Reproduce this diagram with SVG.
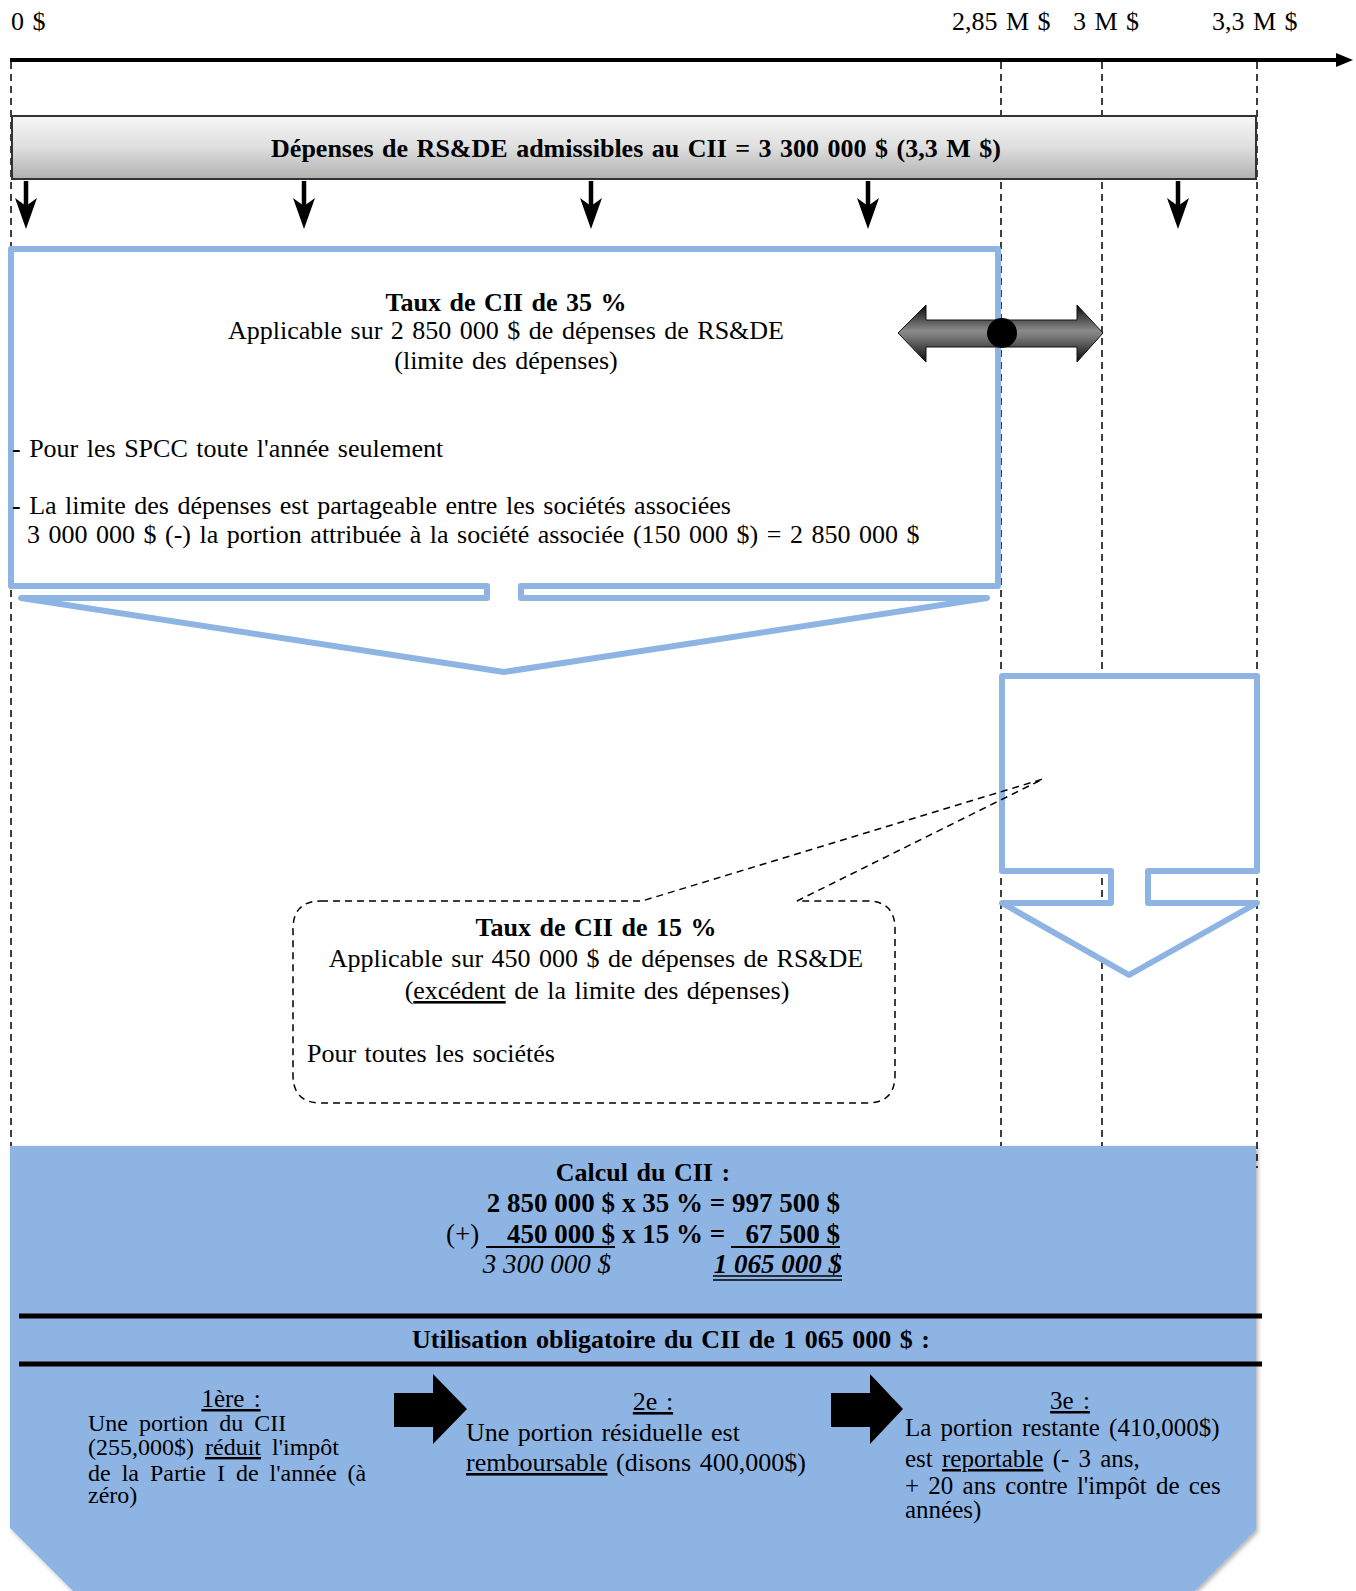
<svg xmlns="http://www.w3.org/2000/svg" width="1356" height="1591" viewBox="0 0 1356 1591">
<style>
.t{font-family:"Liberation Serif","Times New Roman",serif;font-size:26px;fill:#000;word-spacing:2px}
.s{font-size:25px;word-spacing:3px}
.s1{font-size:24px;word-spacing:5px}
.k{font-size:27px;word-spacing:0}
.b{font-weight:bold}
.c{text-anchor:middle}
.e{text-anchor:end}
.i{font-style:italic}
.u{text-decoration:underline}
.dash{stroke:#000;stroke-width:1.5;stroke-dasharray:7 5;fill:none}
.blue{fill:#fff;stroke:#8EB4E3;stroke-width:6;stroke-linejoin:round}
</style>
<defs>
<linearGradient id="gbar" x1="0" y1="0" x2="0" y2="1">
<stop offset="0" stop-color="#f7f7f7"/>
<stop offset="0.5" stop-color="#dedede"/>
<stop offset="1" stop-color="#b0b0b0"/>
</linearGradient>
<linearGradient id="gmetal" x1="0" y1="0" x2="0" y2="1">
<stop offset="0" stop-color="#0a0a0a"/>
<stop offset="0.45" stop-color="#8a8a8a"/>
<stop offset="0.55" stop-color="#7a7a7a"/>
<stop offset="1" stop-color="#0a0a0a"/>
</linearGradient>
<filter id="sh" x="-5%" y="-5%" width="110%" height="110%">
<feDropShadow dx="2" dy="2" stdDeviation="2" flood-color="#000" flood-opacity="0.3"/>
</filter>
<g id="darr">
<line x1="0" y1="181" x2="0" y2="212" stroke="#000" stroke-width="4.5"/>
<path d="M-11,198 L0,206 L11,198 L0,229 Z" fill="#000"/>
</g>
</defs>

<g id="connectors">
<line class="dash" x1="11" y1="62" x2="11" y2="1146"/>
<line class="dash" x1="1001" y1="62" x2="1001" y2="1146"/>
<line class="dash" x1="1102" y1="62" x2="1102" y2="1146"/>
<line class="dash" x1="1257" y1="62" x2="1257" y2="1168"/>
</g>

<g id="axis">
<line x1="10" y1="60" x2="1338" y2="60" stroke="#000" stroke-width="4"/>
<path d="M1336,53 L1353,60 L1336,67 Z" fill="#000"/>
<text class="t" x="11" y="30">0 $</text>
<text class="t" x="952" y="30">2,85 M $</text>
<text class="t" x="1073" y="30">3 M $</text>
<text class="t" x="1212" y="30">3,3 M $</text>
</g>

<g id="bar">
<rect x="12" y="116" width="1244" height="63" fill="url(#gbar)" stroke="#333" stroke-width="2"/>
<text class="t b c" x="636" y="157">Dépenses de RS&amp;DE admissibles au CII = 3 300 000 $ (3,3 M $)</text>
</g>

<g id="down-arrows">
<use href="#darr" x="26"/>
<use href="#darr" x="304"/>
<use href="#darr" x="591"/>
<use href="#darr" x="868"/>
<use href="#darr" x="1178"/>
</g>

<g id="box35">
<path class="blue" d="M11,249 H998 V586 H521 V598 H987 L504,672 L21,598 H487 V586 H11 Z"/>
<text class="t b c" x="506" y="311">Taux de CII de 35 %</text>
<text class="t c" x="506" y="339">Applicable  sur 2 850 000 $ de dépenses de RS&amp;DE</text>
<text class="t c" x="506" y="369">(limite  des dépenses)</text>
<text class="t" x="12" y="457">- Pour  les SPCC toute l'année  seulement</text>
<text class="t" x="12" y="514">- La limite  des dépenses est partageable  entre les sociétés associées</text>
<text class="t" x="27" y="543">3 000 000 $ (-) la  portion  attribuée  à la société  associée (150 000 $) = 2 850 000 $</text>
</g>

<g id="double-arrow">
<path d="M898,333 L926,305 L926,320 L1077,320 L1077,305 L1103,333 L1077,362 L1077,347 L926,347 L926,362 Z" fill="url(#gmetal)" stroke="#111" stroke-width="1"/>
<circle cx="1002" cy="333" r="15" fill="#000"/>
</g>

<g id="box-excess">
<path class="blue" d="M1002,676 H1257 V871 H1148 V903 H1257 L1129,975 L1002,903 H1111 V871 H1002 Z"/>
</g>

<g id="box15">
<path class="dash" d="M321,901 H642 L1043,779 L797,901 H867 Q895,901 895,929 V1075 Q895,1103 867,1103 H321 Q293,1103 293,1075 V929 Q293,901 321,901 Z"/>
<text class="t b c" x="596" y="936">Taux de CII de 15 %</text>
<text class="t c" x="596" y="967">Applicable  sur 450 000 $ de dépenses  de RS&amp;DE</text>
<text class="t c" x="597" y="999">(<tspan class="u">excédent</tspan>  de la  limite  des dépenses)</text>
<text class="t" x="307" y="1062">Pour toutes  les sociétés</text>
</g>

<g id="calc">
<path d="M10,1146 H1256 V1530 L1195,1591 H73 L10,1528 Z" fill="#8EB4E3" filter="url(#sh)"/>
<text class="t b c" x="643" y="1181">Calcul du CII :</text>
<text class="t k b e" x="615" y="1212">2 850 000 $</text>
<text class="t k b" x="622" y="1212">x 35 % =</text>
<text class="t k b e" x="840" y="1212">997 500 $</text>
<text class="t k" x="446" y="1243">(+)</text>
<text class="t k b e" x="615" y="1243">450 000 $</text>
<text class="t k b" x="622" y="1243">x 15 % =</text>
<text class="t k b e" x="840" y="1243">67 500 $</text>
<line x1="486" y1="1247" x2="615" y2="1247" stroke="#000" stroke-width="2"/>
<line x1="731" y1="1247" x2="840" y2="1247" stroke="#000" stroke-width="2"/>
<text class="t k i e" x="611" y="1273">3 300 000 $</text>
<text class="t k b i e" x="842" y="1273">1 065 000 $</text>
<line x1="713" y1="1276" x2="842" y2="1276" stroke="#000" stroke-width="1.5"/>
<line x1="713" y1="1280" x2="842" y2="1280" stroke="#000" stroke-width="1.5"/>
<line x1="19" y1="1316" x2="1262" y2="1316" stroke="#000" stroke-width="5"/>
<text class="t b c" x="671" y="1348">Utilisation obligatoire  du CII de 1 065 000 $ :</text>
<line x1="19" y1="1364" x2="1262" y2="1364" stroke="#000" stroke-width="5"/>
</g>

<g id="step1">
<text class="t s c u" x="231" y="1407">1ère :</text>
<text class="t s1" x="88" y="1431">Une portion  du CII</text>
<text class="t s1" x="88" y="1455">(255,000$) <tspan class="u">réduit</tspan>  l'impôt</text>
<text class="t s1" x="88" y="1481">de la  Partie  I de l'année  (à</text>
<text class="t s1" x="88" y="1503">zéro)</text>
</g>

<g id="arrow1">
<path d="M394,1393 H433 V1374 L467,1409 L433,1444 V1427 H394 Z" fill="#000"/>
</g>

<g id="step2">
<text class="t c u" x="653" y="1410">2e :</text>
<text class="t" x="466" y="1441">Une portion  résiduelle  est</text>
<text class="t" x="466" y="1471"><tspan class="u">remboursable</tspan>  (disons 400,000$)</text>
</g>

<g id="arrow2">
<path d="M831,1393 H870 V1374 L903,1409 L870,1444 V1427 H831 Z" fill="#000"/>
</g>

<g id="step3">
<text class="t s c u" x="1070" y="1409">3e :</text>
<text class="t s" x="905" y="1436">La portion  restante  (410,000$)</text>
<text class="t s" x="905" y="1467">est <tspan class="u">reportable</tspan>  (- 3 ans,</text>
<text class="t s" x="905" y="1494">+ 20 ans contre l'impôt  de ces</text>
<text class="t s" x="905" y="1518">années)</text>
</g>
</svg>
